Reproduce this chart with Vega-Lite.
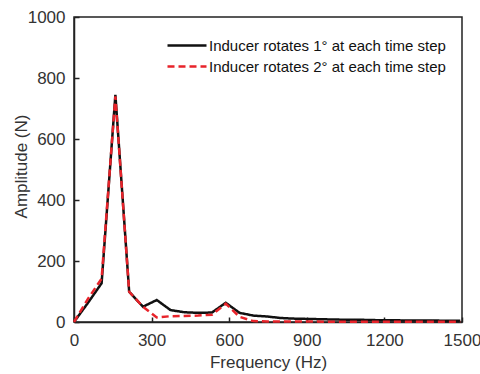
{
  "$schema": "https://vega.github.io/schema/vega-lite/v6.json",
  "width": 388,
  "height": 305,
  "autosize": "none",
  "padding": {"left": 74, "top": 17, "right": 18, "bottom": 52},
  "background": "white",
  "config": {
    "font": "Liberation Sans",
    "view": {"stroke": "#222", "strokeWidth": 1.5},
    "axis": {"grid": false, "domainColor": "#222", "domainWidth": 1.5, "tickColor": "#222", "tickWidth": 1.5, "labelColor": "#333", "titleColor": "#333", "labelFont": "Liberation Sans", "titleFont": "Liberation Sans", "labelFontSize": 17, "titleFontSize": 17, "titleFontWeight": "normal", "format": "d", "labelFlush": false}
  },
  "data": {"values": [
    {"f": 0, "a": 0, "s": "Inducer rotates 1° at each time step"},
    {"f": 53.3, "a": 62, "s": "Inducer rotates 1° at each time step"},
    {"f": 106.7, "a": 127, "s": "Inducer rotates 1° at each time step"},
    {"f": 160, "a": 745, "s": "Inducer rotates 1° at each time step"},
    {"f": 213.3, "a": 99, "s": "Inducer rotates 1° at each time step"},
    {"f": 266.7, "a": 50, "s": "Inducer rotates 1° at each time step"},
    {"f": 320, "a": 72, "s": "Inducer rotates 1° at each time step"},
    {"f": 373.3, "a": 39, "s": "Inducer rotates 1° at each time step"},
    {"f": 426.7, "a": 32, "s": "Inducer rotates 1° at each time step"},
    {"f": 480, "a": 30, "s": "Inducer rotates 1° at each time step"},
    {"f": 533.3, "a": 31, "s": "Inducer rotates 1° at each time step"},
    {"f": 586.7, "a": 63, "s": "Inducer rotates 1° at each time step"},
    {"f": 640, "a": 30, "s": "Inducer rotates 1° at each time step"},
    {"f": 693.3, "a": 21, "s": "Inducer rotates 1° at each time step"},
    {"f": 746.7, "a": 18, "s": "Inducer rotates 1° at each time step"},
    {"f": 800, "a": 13, "s": "Inducer rotates 1° at each time step"},
    {"f": 853.3, "a": 11, "s": "Inducer rotates 1° at each time step"},
    {"f": 906.7, "a": 10, "s": "Inducer rotates 1° at each time step"},
    {"f": 960, "a": 9, "s": "Inducer rotates 1° at each time step"},
    {"f": 1013.3, "a": 8, "s": "Inducer rotates 1° at each time step"},
    {"f": 1066.7, "a": 7, "s": "Inducer rotates 1° at each time step"},
    {"f": 1120, "a": 7, "s": "Inducer rotates 1° at each time step"},
    {"f": 1173.3, "a": 6, "s": "Inducer rotates 1° at each time step"},
    {"f": 1226.7, "a": 6, "s": "Inducer rotates 1° at each time step"},
    {"f": 1280, "a": 5, "s": "Inducer rotates 1° at each time step"},
    {"f": 1333.3, "a": 5, "s": "Inducer rotates 1° at each time step"},
    {"f": 1386.7, "a": 5, "s": "Inducer rotates 1° at each time step"},
    {"f": 1440, "a": 4, "s": "Inducer rotates 1° at each time step"},
    {"f": 1493.3, "a": 4, "s": "Inducer rotates 1° at each time step"},
    {"f": 0, "a": 0, "s": "Inducer rotates 2° at each time step"},
    {"f": 53.3, "a": 75, "s": "Inducer rotates 2° at each time step"},
    {"f": 106.7, "a": 142, "s": "Inducer rotates 2° at each time step"},
    {"f": 160, "a": 740, "s": "Inducer rotates 2° at each time step"},
    {"f": 213.3, "a": 99, "s": "Inducer rotates 2° at each time step"},
    {"f": 266.7, "a": 50, "s": "Inducer rotates 2° at each time step"},
    {"f": 320, "a": 15, "s": "Inducer rotates 2° at each time step"},
    {"f": 373.3, "a": 19, "s": "Inducer rotates 2° at each time step"},
    {"f": 426.7, "a": 20, "s": "Inducer rotates 2° at each time step"},
    {"f": 480, "a": 21, "s": "Inducer rotates 2° at each time step"},
    {"f": 533.3, "a": 24, "s": "Inducer rotates 2° at each time step"},
    {"f": 586.7, "a": 60, "s": "Inducer rotates 2° at each time step"},
    {"f": 640, "a": 17, "s": "Inducer rotates 2° at each time step"},
    {"f": 693.3, "a": 3, "s": "Inducer rotates 2° at each time step"},
    {"f": 746.7, "a": 2, "s": "Inducer rotates 2° at each time step"},
    {"f": 800, "a": 2, "s": "Inducer rotates 2° at each time step"},
    {"f": 853.3, "a": 2, "s": "Inducer rotates 2° at each time step"},
    {"f": 906.7, "a": 2, "s": "Inducer rotates 2° at each time step"},
    {"f": 960, "a": 1, "s": "Inducer rotates 2° at each time step"},
    {"f": 1013.3, "a": 1, "s": "Inducer rotates 2° at each time step"},
    {"f": 1066.7, "a": 1, "s": "Inducer rotates 2° at each time step"},
    {"f": 1120, "a": 1, "s": "Inducer rotates 2° at each time step"},
    {"f": 1173.3, "a": 1, "s": "Inducer rotates 2° at each time step"},
    {"f": 1226.7, "a": 1, "s": "Inducer rotates 2° at each time step"},
    {"f": 1280, "a": 1, "s": "Inducer rotates 2° at each time step"},
    {"f": 1333.3, "a": 1, "s": "Inducer rotates 2° at each time step"},
    {"f": 1386.7, "a": 1, "s": "Inducer rotates 2° at each time step"},
    {"f": 1440, "a": 1, "s": "Inducer rotates 2° at each time step"},
    {"f": 1493.3, "a": 1, "s": "Inducer rotates 2° at each time step"}
  ]},
  "mark": {"type": "line", "strokeWidth": 2.5},
  "encoding": {
    "x": {"field": "f", "type": "quantitative", "title": "Frequency (Hz)",
      "scale": {"domain": [0, 1500], "nice": false},
      "axis": {"values": [0, 300, 600, 900, 1200, 1500], "tickSize": -5, "labelPadding": 15, "titlePadding": 6}},
    "y": {"field": "a", "type": "quantitative", "title": "Amplitude (N)",
      "scale": {"domain": [0, 1000], "nice": false},
      "axis": {"values": [0, 200, 400, 600, 800, 1000], "tickSize": -5, "labelPadding": 14, "titleX": -53, "titleY": 149, "titleBaseline": "middle", "titleAlign": "center", "titleAngle": 270}},
    "color": {"field": "s", "type": "nominal",
      "scale": {"domain": ["Inducer rotates 1° at each time step", "Inducer rotates 2° at each time step"], "range": ["#111111", "#e8232a"]},
      "legend": {"title": null, "orient": "none", "legendX": 92, "legendY": 20, "symbolType": "stroke", "symbolSize": 1521, "symbolStrokeWidth": 2.5, "labelFontSize": 15, "labelColor": "#111", "labelFont": "Liberation Sans", "labelLimit": 0, "padding": 0, "rowPadding": 4, "clipHeight": 17, "labelOffset": 1}},
    "strokeDash": {"field": "s", "type": "nominal",
      "scale": {"domain": ["Inducer rotates 1° at each time step", "Inducer rotates 2° at each time step"], "range": [[1, 0], [7, 4]]},
      "legend": null},
    "order": {"field": "s"}
  }
}
